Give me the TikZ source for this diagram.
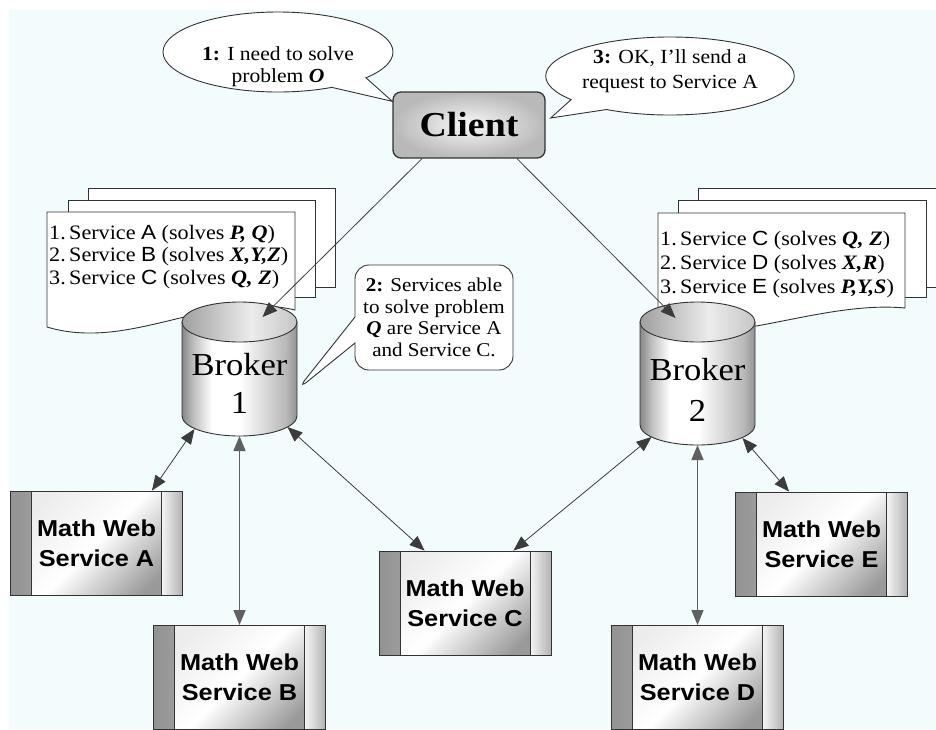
\documentclass[tikz,border=0pt]{standalone}
\usepackage{fontspec}
\setmainfont{Liberation Serif}[FakeStretch=1.08]
\newfontfamily\mwsfont{Liberation Sans}[FakeStretch=1.1]
\usepackage{tikz}
\usetikzlibrary{positioning,arrows.meta,calc,shapes.geometric,shapes.callouts}
\definecolor{canvas}{HTML}{F3FCFC}
\definecolor{edge}{HTML}{333333}
\definecolor{wire}{HTML}{3C3C3C}
\pgfdeclarehorizontalshading{brokershade}{100bp}{color(0bp)=(gray!95); color(25bp)=(gray!95); color(30bp)=(gray!50); color(38bp)=(white); color(50bp)=(white); color(70bp)=(gray!55); color(75bp)=(gray!85); color(100bp)=(gray!85)}
\pgfdeclarehorizontalshading{capshade}{100bp}{color(0bp)=(gray!75); color(25bp)=(gray!75); color(55bp)=(gray!15); color(75bp)=(gray!45); color(100bp)=(gray!45)}
\newcommand{\sv}[1]{{\mwsfont #1}}
\newcommand{\pb}[1]{\textbf{\textit{#1}}}

\begin{document}
\begin{tikzpicture}[x=1pt, y=-1pt,
    >={Triangle[length=15pt,width=12pt]},
    sheet/.style={draw=edge, fill=white, line width=0.9pt},
    listtxt/.style={anchor=north west, inner sep=0pt, align=left},
    bubble/.style={draw=edge, fill=white, line width=0.9pt, inner sep=0pt, font=\fontsize{20}{22}\selectfont},
    brokerbox/.style={minimum width=115pt, inner sep=0pt, outer sep=0pt},
    brokertxt/.style={align=center, inner sep=0pt, font=\fontsize{32}{38}\selectfont},
    body/.style={draw=edge, line width=0.9pt, shading=brokershade},
    topcap/.style={draw=edge, line width=0.9pt, shading=capshade},
    clientbox/.style={draw=edge, line width=1.3pt, rounded corners=8pt, minimum width=152pt, minimum height=66pt, inner color=gray!5, outer color=gray!55, font=\fontsize{35}{40}\selectfont\bfseries},
    mws/.style={draw=edge, line width=0.9pt, minimum width=172pt, minimum height=104pt, inner sep=0pt, align=center,
        font=\mwsfont\bfseries\fontsize{23}{30}\selectfont,
        top color=gray!15, bottom color=gray!80, middle color=white, shading angle=45,
        path picture={
            \fill[left color=gray!85, right color=gray!30] (path picture bounding box.north west) rectangle ([xshift=21pt]path picture bounding box.south west);
            \fill[left color=gray!8, right color=gray!60] ([xshift=-21pt]path picture bounding box.north east) rectangle (path picture bounding box.south east);
            \draw[edge, line width=0.9pt] ([xshift=21pt]path picture bounding box.north west) -- ([xshift=21pt]path picture bounding box.south west);
            \draw[edge, line width=0.9pt] ([xshift=-21pt]path picture bounding box.north east) -- ([xshift=-21pt]path picture bounding box.south east);
        }},
    link/.style={->, draw=wire, line width=0.8pt},
    dlink/.style={<->, draw=wire, line width=0.8pt},
    vlink/.style={<->, draw=gray!75!black, line width=1.6pt}
]
    \useasboundingbox (0,0) rectangle (936,729);
    \fill[canvas] (9,10) rectangle (936,729);

    % service lists
    \draw[sheet] (88,188) rectangle (335,287);
    \draw[sheet] (68,200) rectangle (315,297);
    \draw[sheet] (47,212) -- (295,212) -- (295,310) .. controls (210,290) and (130,352) .. (47,327) -- cycle;
    \draw[sheet] (698,188) rectangle (950,287);
    \draw[sheet] (678,200) rectangle (926,297);
    \draw[sheet] (658,213) -- (905,213) -- (905,308) .. controls (820,300) and (720,350) .. (658,325) -- cycle;

    \node[listtxt, font=\fontsize{20.5}{22.5}\selectfont] (list1) at (49,225)
        {1.\,Service \sv{A} (solves \pb{P, Q})\\2.\,Service \sv{B} (solves \pb{X,Y,Z})\\3.\,Service \sv{C} (solves \pb{Q, Z})};
    \node[listtxt, font=\fontsize{20.5}{24}\selectfont] (list2) at (660,231)
        {1.\,Service \sv{C} (solves \pb{Q, Z})\\2.\,Service \sv{D} (solves \pb{X,R})\\3.\,Service \sv{E} (solves \pb{P,Y,S})};

    % brokers (cylinders)
    \node[brokerbox, minimum height=134pt] (b1) at (239.5,369) {};
    \node[brokerbox, minimum height=143pt] (b2) at (697.5,373.5) {};
    \foreach \b in {b1,b2}{
        \path[body] ([yshift=-20pt]\b.north west) -- ([yshift=20pt]\b.south west)
            arc[start angle=180, end angle=360, x radius=57.5pt, y radius=20pt]
            -- ([yshift=-20pt]\b.north east) -- cycle;
        \path[topcap] ([yshift=-20pt]\b.north) ellipse [x radius=57.5pt, y radius=20pt];
    }
    \node[brokertxt] (b1txt) at ([yshift=-14pt]b1.center) {Broker\\1};
    \node[brokertxt, font=\fontsize{32}{41}\selectfont] (b2txt) at ([yshift=-16pt]b2.center) {Broker\\2};

    \node[clientbox] (client) at (469,125) {Client};

    % math web services
    \node[mws] (A) at (96.5,543) {Math Web\\Service A};
    \node[mws, below=189pt of b1] (B) {Math Web\\Service B};
    \node[mws] (C) at (465,603) {Math Web\\Service C};
    \node[mws, below=180pt of b2] (D) {Math Web\\Service D};
    \node[mws] (E) at (821.5,544) {Math Web\\Service E};

    \draw[link] ([xshift=-47pt]client.south) -- ([xshift=23pt,yshift=-15pt]b1.north);
    \draw[link] ([xshift=48pt]client.south) -- ([xshift=-22pt,yshift=-16pt]b2.north);
    \draw[dlink] ([xshift=-45pt,yshift=7pt]b1.south) -- ([xshift=-31pt]A.north east);
    \draw[vlink] (b1.south) -- (B.north -| b1.south);
    \draw[dlink] ([xshift=48pt,yshift=9pt]b1.south) -- ([xshift=46pt]C.north west);
    \draw[dlink] ([xshift=-46pt,yshift=8pt]b2.south) -- ([xshift=-38pt]C.north east);
    \draw[vlink] (b2.south) -- (D.north -| b2.south);
    \draw[dlink] ([xshift=45pt,yshift=7pt]b2.south) -- ([xshift=54pt]E.north west);

    % speech bubbles
    \node[bubble, ellipse callout, minimum width=230pt, minimum height=80pt, callout pointer arc=22,
        callout absolute pointer={([yshift=-10pt]client.north west)}] (say1) at (278,52)
        {\raisebox{-20pt}[0pt][0pt]{\begin{tabular}{@{}c@{}}\textbf{1:} I need to solve\\problem \pb{O}\end{tabular}}};
    \node[bubble, rectangle callout, rounded corners=14pt, minimum width=158pt, minimum height=105pt,
        align=center, font=\fontsize{19.5}{21.5}\selectfont, callout pointer width=26pt,
        callout absolute pointer={([yshift=-21pt]b1.east)}] (say2) at (434,317.5)
        {\textbf{2:} Services able\\to solve problem\\\pb{Q} are Service A\\and Service C.};
    \node[bubble, ellipse callout, minimum width=215pt, minimum height=78pt, callout pointer arc=22,
        font=\fontsize{20}{25}\selectfont,
        callout absolute pointer={([xshift=5pt,yshift=7pt]client.east)}] (say3) at (670,76)
        {\raisebox{0pt}[0pt][0pt]{\begin{tabular}{@{}c@{}}\textbf{3:} OK, I'll send a\\request to Service A\end{tabular}}};
\end{tikzpicture}
\end{document}
